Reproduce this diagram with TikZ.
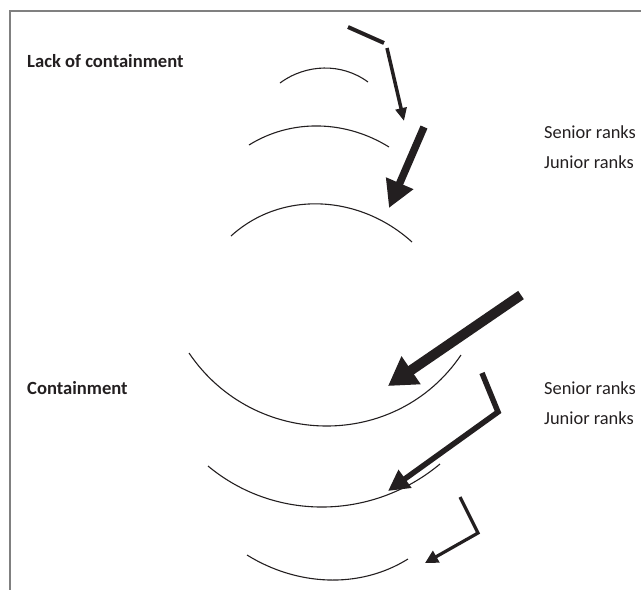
\documentclass[tikz,border=0pt]{standalone}
\usepackage{fontspec}
\setmainfont{Carlito}
\usetikzlibrary{arrows.meta}
\definecolor{inkdark}{RGB}{35,31,32}
\definecolor{framegray}{RGB}{128,128,128}

\begin{document}
\begin{tikzpicture}[
  x=1pt,y=-1pt,
  every node/.style={font=\fontsize{18.4}{22}\selectfont,text=inkdark,inner sep=0pt},
  headline/.style={anchor=west,font=\fontsize{18.6}{22}\selectfont\bfseries},
  ranklabel/.style={anchor=west},
  rankarc/.style={draw=inkdark,line width=1.1pt},
  flow/.style={draw=inkdark,line join=miter},
]
  \useasboundingbox (0,0) rectangle (641,590);

  % Frame
  \draw[framegray,line width=1.2pt] (641,11) -- (10,11) -- (10,590);

  % Labels
  \node[headline] (lack) at (27,61) {Lack of containment};
  \node[headline] (contain) at (27,388) {Containment};
  \node[ranklabel] (senior1) at (544,132) {Senior ranks};
  \node[ranklabel] (junior1) at (544,162) {Junior ranks};
  \node[ranklabel] (senior2) at (544,388) {Senior ranks};
  \node[ranklabel] (junior2) at (544,418) {Junior ranks};

  % Arcs, lack of containment
  \draw[rankarc] (280,83) .. controls (306.1,63.7) and (341.9,62.7) .. (368,82);
  \draw[rankarc] (249,145) .. controls (291.9,118.3) and (346.1,120.3) .. (389,147);
  \draw[rankarc] (231,236) .. controls (282.4,189.3) and (360.6,195.3) .. (412,242);

  % Arcs, containment
  \draw[rankarc] (189,353) .. controls (254,449) and (396,451) .. (461,355);
  \draw[rankarc] (208,466) .. controls (275.2,522) and (372.8,520) .. (440,464);
  \draw[rankarc] (247,555) .. controls (296.2,585.6) and (358.8,589.6) .. (408,559);

  % Arrow ends
  \coordinate (a1s) at (348,27);
  \coordinate (a1b) at (384,43);
  \coordinate (a1t) at (387,48);
  \coordinate (a1e) at (404,121);
  \coordinate (a2s) at (424,127);
  \coordinate (a2e) at (389,208);
  \coordinate (a3s) at (521,295);
  \coordinate (a3e) at (388,386);
  \coordinate (a4s) at (482,373);
  \coordinate (a4b) at (498,412);
  \coordinate (a4e) at (388,491);
  \coordinate (a5s) at (460,497);
  \coordinate (a5b) at (478,533);
  \coordinate (a5e) at (425,563);

  % Arrows
  \draw[flow,line width=4pt] (a1s) -- (a1b);
  \draw[flow,line width=3.5pt,-{Triangle[length=13pt,width=11pt]}] (a1t) -- (a1e);
  \draw[flow,line width=7.5pt,-{Triangle[length=27pt,width=28pt]}] (a2s) -- (a2e);
  \draw[flow,line width=10pt,-{Triangle[length=28pt,width=32pt]}] (a3s) -- (a3e);
  \draw[flow,line width=5.5pt,-{Triangle[length=21pt,width=21pt]}] (a4s) -- (a4b) -- (a4e);
  \draw[flow,line width=3.2pt,-{Triangle[length=13pt,width=13pt]}] (a5s) -- (a5b) -- (a5e);
\end{tikzpicture}
\end{document}
